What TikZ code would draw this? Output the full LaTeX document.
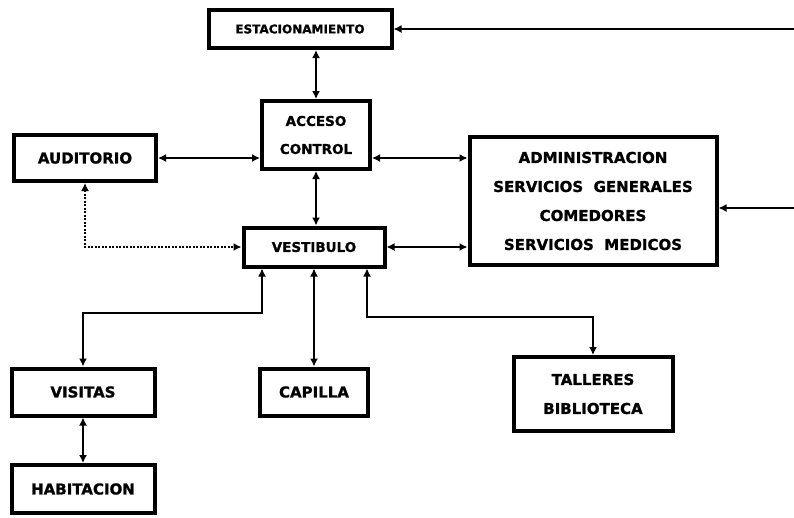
\documentclass[tikz,border=0pt]{standalone}
\usepackage{fontspec}
\setmainfont{DejaVu Sans}[BoldFeatures={FakeBold=1.2}]
\usetikzlibrary{arrows.meta}

\tikzset{
  box/.style={draw, line width=4pt, inner sep=0pt, align=center,
    font=\bfseries\fontsize{15}{29}\selectfont},
  small/.style={font=\bfseries\fontsize{13.5}{28}\selectfont},
  link/.style={line width=1.5pt, {Latex[length=8pt,width=8pt]}-{Latex[length=8pt,width=8pt]}},
  inlink/.style={line width=1.5pt, -{Latex[length=8pt,width=8pt]}},
}

\begin{document}
\begin{tikzpicture}[x=1pt,y=-1pt]

\def\xmax{794}
\def\ymax{517}
\useasboundingbox (0,0) rectangle (\xmax,\ymax);

% boxes, top row
\node[box, minimum width=183, minimum height=38,
  font=\bfseries\fontsize{12}{14}\selectfont] (estac) at (300,29) {ESTACIONAMIENTO};
\node[box, small, minimum width=108, minimum height=68] (acc) at (316,135) {ACCESO\\CONTROL};
\node[box, minimum width=142, minimum height=46] (aud) at (85,158) {AUDITORIO};
\node[box, small, minimum width=141, minimum height=39] (vest) at (314,247) {VESTIBULO};
\node[box, minimum width=247, minimum height=128] (admin) at (593,201)
  {ADMINISTRACION\\SERVICIOS~ GENERALES\\COMEDORES\\SERVICIOS~ MEDICOS};

% boxes, bottom row
\node[box, minimum width=143, minimum height=47] (vis) at (83,392) {VISITAS};
\node[box, minimum width=108, minimum height=47] (cap) at (314,392) {CAPILLA};
\node[box, minimum width=143, minimum height=48] (hab) at (83,489) {HABITACION};
\node[box, minimum width=159, minimum height=74] (tall) at (593,394) {TALLERES\\BIBLIOTECA};

% free ends and corners
\coordinate (rim) at (\xmax,0);
\coordinate (j1) at (262,313);
\coordinate (j2) at (367,317);

% connectors
\draw[inlink] (estac.east -| rim) -- (estac.east);
\draw[link] (acc.north) -- (acc.north |- estac.south);
\draw[link] (aud.east) -- (aud.east -| acc.west);
\draw[link] (aud.east -| acc.east) -- (aud.east -| admin.west);
\draw[link] (acc.south) -- (acc.south |- vest.north);
\draw[link] (vest.east) -- (vest.east -| admin.west);
\draw[link, dash pattern=on 2pt off 1.5pt] (aud.south) |- (vest.west);
\draw[inlink] ([yshift=-7pt]admin.east -| rim) -- ([yshift=-7pt]admin.east);

\draw[link] (vest.south -| j1) -- (j1) -| (vis.north);
\draw[link] (vest.south -| cap.north) -- (cap.north);
\draw[link] (vest.south -| j2) -- (j2) -| (tall.north);
\draw[link] (vis.south) -- (hab.north);

\end{tikzpicture}
\end{document}
